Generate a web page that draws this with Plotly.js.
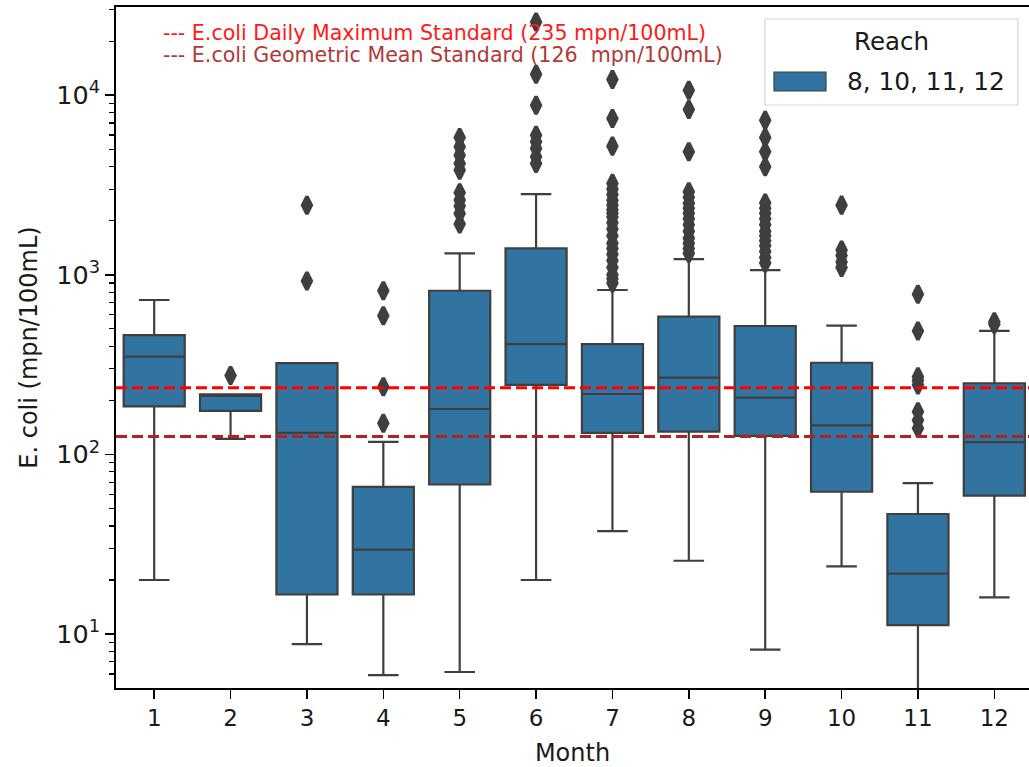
<!DOCTYPE html>
<html>
<head>
<meta charset="utf-8">
<script src="https://cdn.plot.ly/plotly-3.0.1.min.js"></script>
<style>html,body{margin:0;padding:0;overflow:hidden;background:#fff}</style>
</head>
<body>
<div id="chart" style="width:1029px;height:767px"></div>
<script>
// ---- data ----
const months = ["1","2","3","4","5","6","7","8","9","10","11","12"];
const q1Values     = [185, 175, 16.6, 16.6, 68, 244, 132, 134, 127, 62, 11.2, 59];
const medianValues = [350, 212, 132, 29.5, 179, 411, 217, 268, 207, 145, 21.7, 117];
const q3Values     = [462, 216, 322, 66, 815, 1404, 411, 585, 519, 324, 46.6, 249];
const lowerWhisker = [20, 122, 8.8, 5.9, 6.15, 20, 37.4, 25.6, 8.2, 23.8, 3, 16];
const upperWhisker = [724, 216, 322, 117.5, 1317, 2814, 823, 1224, 1063, 521, 69.2, 487];
const fliers = [
  [],
  [275],
  [924, 2440],
  [816, 592, 238, 149],
  [5818, 5159, 4638, 4170, 3828, 2861, 2606, 2413, 2198, 1917],
  [25570, 13090, 8800, 5990, 5497, 5053, 4540, 4170],
  [12230, 7413, 5204, 3228, 3000, 2800, 2600, 2450, 2300, 2200, 2100, 1950, 1800, 1650, 1500, 1400, 1300, 1200, 1100, 1000, 950, 900],
  [10660, 8325, 4838, 2899, 2700, 2500, 2350, 2200, 2050, 1900, 1750, 1600, 1500, 1400, 1317],
  [7261, 5818, 4838, 3993, 2510, 2350, 2200, 2050, 1900, 1750, 1650, 1550, 1450, 1350, 1250, 1163],
  [2443, 1374, 1280, 1180, 1100],
  [779, 487, 271, 258, 244, 173, 155, 140],
  [548, 530]
];
const yTickVals = [10, 100, 1000, 10000];
const yTickText = ["10<sup>1</sup>", "10<sup>2</sup>", "10<sup>3</sup>", "10<sup>4</sup>"];
const dailyMaxStd = 235;
const geoMeanStd = 126;
const legendTitle = "Reach";
const seriesName = "8, 10, 11, 12";
const yTitle = "E. coli (mpn/100mL)";
const xTitle = "Month";
const noteDaily = "--- E.coli Daily Maximum Standard (235 mpn/100mL)";
const noteGeo = "--- E.coli Geometric Mean Standard (126  mpn/100mL)";

// ---- styling ----
const FONT = "DejaVu Sans, sans-serif";
const BOX_FILL = "#3274a1";
const EDGE = "#3f3f3f";

const flierX = [], flierY = [];
fliers.forEach((arr, i) => arr.forEach(v => { flierX.push(months[i]); flierY.push(v); }));

const boxTrace = {
  type: "box",
  name: seriesName,
  x: months,
  q1: q1Values,
  median: medianValues,
  q3: q3Values,
  lowerfence: lowerWhisker,
  upperfence: upperWhisker,
  boxpoints: false,
  width: 0.8,
  whiskerwidth: 0.5,
  fillcolor: BOX_FILL,
  line: {color: EDGE, width: 2.2},
  showlegend: false,
  hoverinfo: "skip"
};

const flierTrace = {
  type: "scatter",
  mode: "markers",
  x: flierX,
  y: flierY,
  marker: {symbol: "diamond-tall", size: 12.5, color: EDGE, line: {color: EDGE, width: 3.5}},
  showlegend: false,
  hoverinfo: "skip"
};

// plot area in pixels
const L = 116, T = 7, B = 79, W = 1029, H = 767;
const pw = W - L, ph = H - T - B;
const px = x => (x - L) / pw;
const py = y => (H - B - y) / ph;

const layout = {
  width: W, height: H,
  margin: {l: L, r: 0, t: T, b: B, pad: 0},
  paper_bgcolor: "#fff", plot_bgcolor: "#fff",
  font: {family: FONT, color: "#000"},
  showlegend: false,
  xaxis: {
    type: "category",
    categoryorder: "array", categoryarray: months,
    range: [-0.5, 11.454],
    showline: true, linecolor: "#000", linewidth: 1.8, mirror: true,
    ticks: "outside", ticklen: 9, tickwidth: 1.5, tickcolor: "#000",
    showgrid: false, zeroline: false,
    tickfont: {family: FONT, size: 23, color: "#1a1a1a"},
    title: {text: xTitle, font: {family: FONT, size: 24, color: "#1a1a1a"}, standoff: 14}
  },
  yaxis: {
    type: "log",
    range: [0.6997, 4.491],
    showline: true, linecolor: "#000", linewidth: 1.8, mirror: false,
    ticks: "outside", ticklen: 9, tickwidth: 1.5, tickcolor: "#000",
    tickmode: "array", tickvals: yTickVals, ticktext: yTickText,
    minor: {ticks: "outside", ticklen: 5, tickwidth: 1.2, tickcolor: "#000", dtick: "D1", showgrid: false},
    showgrid: false, zeroline: false,
    tickfont: {family: FONT, size: 25.5, color: "#1a1a1a"},
    title: {text: yTitle, font: {family: FONT, size: 24, color: "#1a1a1a"}, standoff: 12}
  },
  shapes: [
    {type: "line", xref: "paper", x0: 0, x1: 1, yref: "y", y0: dailyMaxStd, y1: dailyMaxStd,
     line: {color: "#ff0000", width: 3, dash: "11px,5px"}, layer: "above"},
    {type: "line", xref: "paper", x0: 0, x1: 1, yref: "y", y0: geoMeanStd, y1: geoMeanStd,
     line: {color: "#b22222", width: 3, dash: "11px,5px"}, layer: "above"},
    // legend frame
    {type: "rect", xref: "paper", yref: "paper", x0: px(765), x1: px(1018), y0: py(105), y1: py(19),
     line: {color: "#d6d6d6", width: 1.2}, fillcolor: "rgba(255,255,255,0.85)", layer: "above"},
    // legend swatch
    {type: "rect", xref: "paper", yref: "paper", x0: px(774), x1: px(826), y0: py(91), y1: py(72),
     line: {color: EDGE, width: 1.2}, fillcolor: BOX_FILL, layer: "above"}
  ],
  annotations: [
    {xref: "paper", yref: "paper", x: px(161), y: py(33), xanchor: "left", yanchor: "middle",
     text: noteDaily, showarrow: false, font: {family: FONT, size: 20.6, color: "#ff1a1a"}},
    {xref: "paper", yref: "paper", x: px(161), y: py(55), xanchor: "left", yanchor: "middle",
     text: noteGeo, showarrow: false, font: {family: FONT, size: 20.6, color: "#b03a3a"}},
    {xref: "paper", yref: "paper", x: px(891), y: py(42), xanchor: "center", yanchor: "middle",
     text: legendTitle, showarrow: false, font: {family: FONT, size: 24.5, color: "#1a1a1a"}},
    {xref: "paper", yref: "paper", x: px(845), y: py(82), xanchor: "left", yanchor: "middle",
     text: seriesName, showarrow: false, font: {family: FONT, size: 24.8, color: "#1a1a1a"}}
  ]
};

Plotly.newPlot("chart", [boxTrace, flierTrace], layout, {staticPlot: true, displayModeBar: false});
</script>
</body>
</html>
